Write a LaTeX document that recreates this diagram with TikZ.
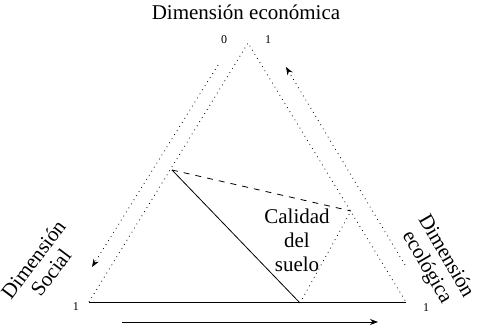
\documentclass[tikz,border=0pt]{standalone}
\usepackage{fontspec}
\setmainfont{Liberation Serif}
\usetikzlibrary{arrows.meta}

\begin{document}
\begin{tikzpicture}[x=0.5pt,y=-0.5pt,>={Stealth[length=4pt,width=3pt]},
  dim/.style={font=\fontsize{10.5}{11}\selectfont,align=center,inner sep=0pt},
  tick/.style={font=\fontsize{6}{7}\selectfont,inner sep=0pt}]
\useasboundingbox (0,0) rectangle (478,325);
% outer triangle
\coordinate (top) at (248,43);
\coordinate (bl) at (89,302);
\coordinate (br) at (406,302);
\draw[dotted] (bl) -- (top) -- (br);
\draw (bl) -- (br);
% soil quality triangle
\coordinate (qa) at (172,170);
\coordinate (qb) at (351,211);
\coordinate (qc) at (300,303);
\draw[dashed] (qa) -- (qb);
\draw (qa) -- (qc);
\draw[dotted] (qc) -- (qb);
% direction arrows
\coordinate (la) at (218,65);
\coordinate (lb) at (92,267);
\coordinate (ra) at (405,265);
\coordinate (rb) at (286,67);
\coordinate (ba) at (122,322);
\coordinate (bb) at (378,322);
\draw[dotted,->] (la) -- (lb);
\draw[dotted,->] (ra) -- (rb);
\draw[->] (ba) -- (bb);
% labels
\node[dim] (eco) at (246,12) {Dimensión económica};
\node[dim,rotate=53] (soc) at (42,266) {Dimensión\\Social};
\node[dim,rotate=-60] (ecol) at (436,262) {Dimensión\\ecológica};
\node[dim,font=\fontsize{10.5}{12}\selectfont] (cal) at (297,240) {Calidad\\del\\suelo};
\node[tick] (t0) at (224,40) {0};
\node[tick] (t1) at (268,40) {1};
\node[tick] (t2) at (76,307) {1};
\node[tick] (t3) at (426,308) {1};
\end{tikzpicture}
\end{document}
